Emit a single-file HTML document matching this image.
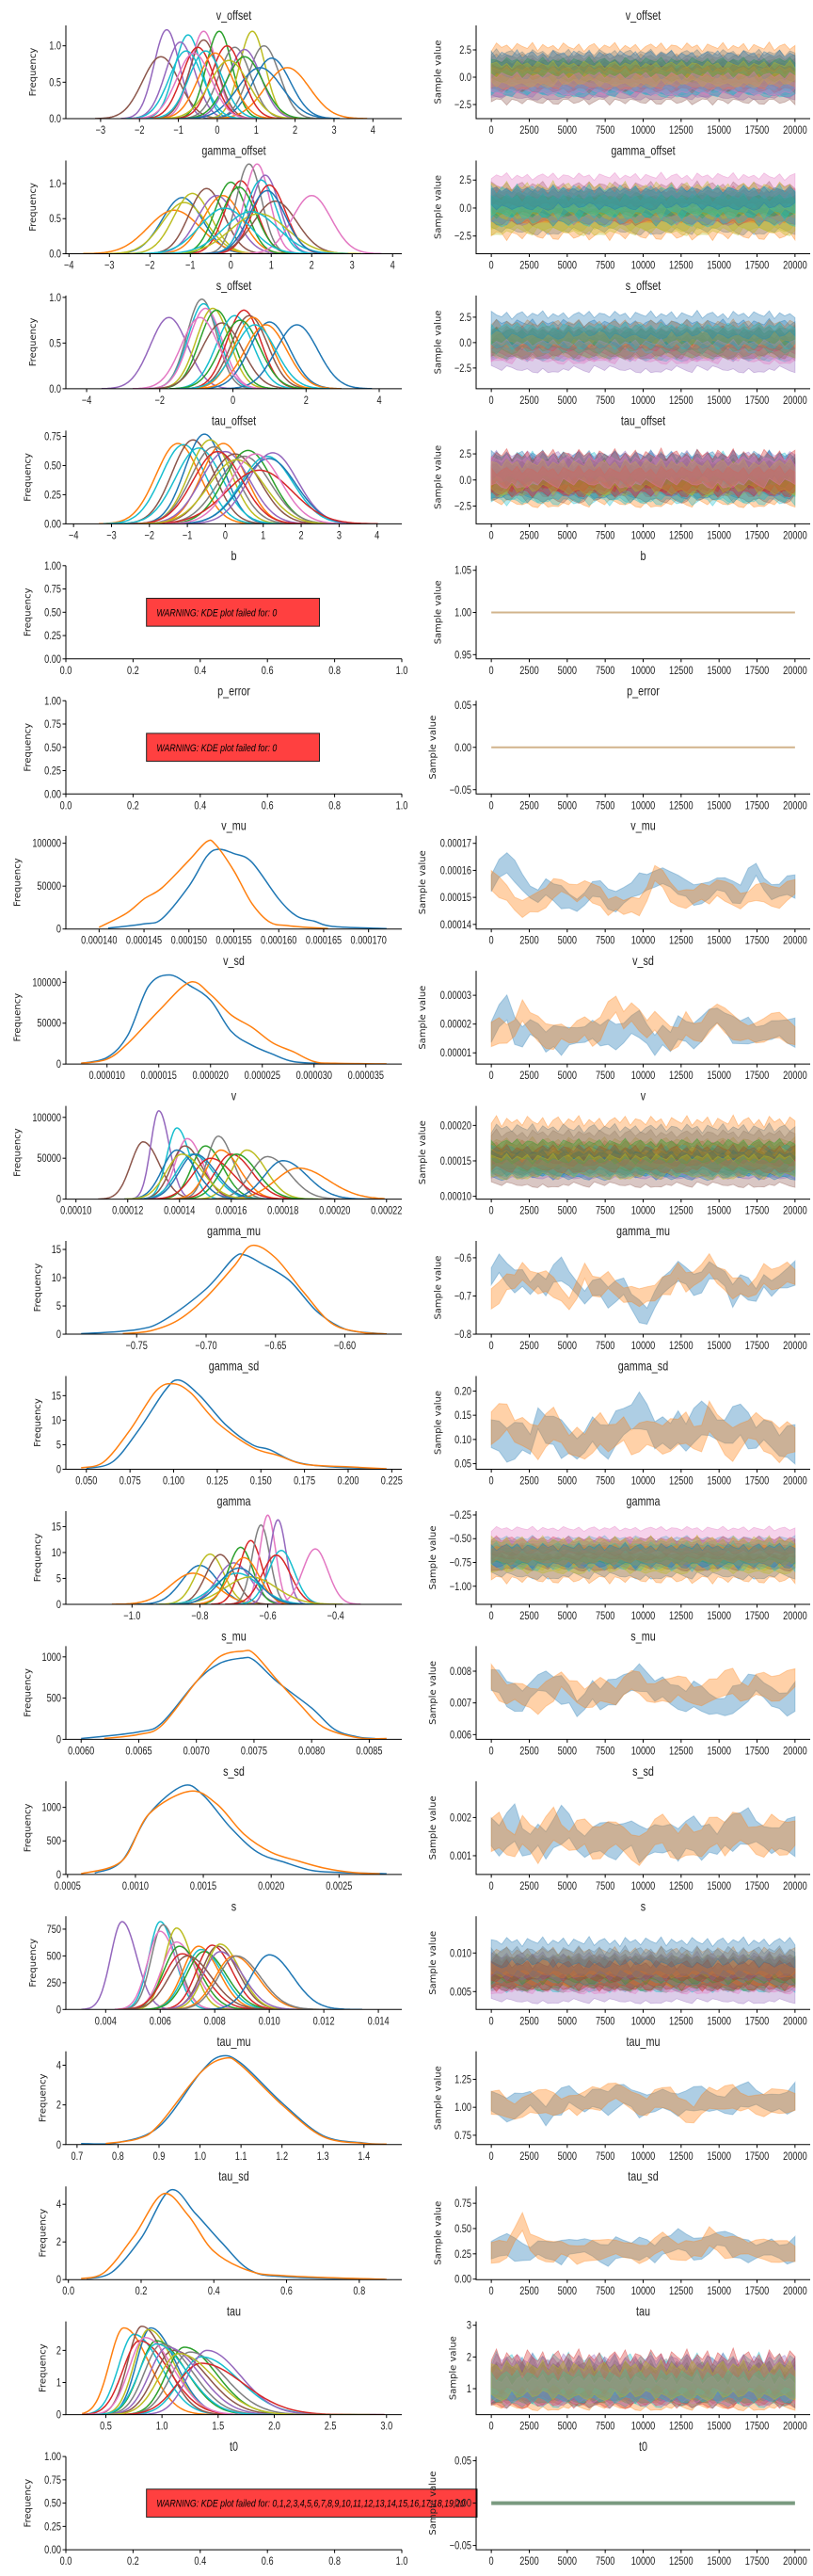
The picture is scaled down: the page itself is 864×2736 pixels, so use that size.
<!DOCTYPE html>
<html><head><meta charset="utf-8"><title>Trace plot</title>
<style>
html,body{margin:0;padding:0;background:#fff;}
svg{display:block;}
.tk{font-family:"Liberation Sans Narrow","Liberation Sans",sans-serif;font-size:11.5px;fill:#222;}
.ttl{font-family:"Liberation Sans Narrow","Liberation Sans",sans-serif;font-size:13.5px;fill:#222;}
.yl{font-family:"DejaVu Sans","Liberation Sans",sans-serif;font-size:10px;fill:#222;}
.warn{font-family:"Liberation Sans Narrow","Liberation Sans",sans-serif;font-style:italic;font-size:11px;fill:#000;}
</style></head>
<body>
<svg id="chart" width="864" height="2736" viewBox="0 0 864 2736" xmlns="http://www.w3.org/2000/svg"></svg>
<script>
// ===== DATA =====
const COLORS=['#1f77b4','#ff7f0e','#2ca02c','#d62728','#9467bd','#8c564b','#e377c2','#7f7f7f','#bcbd22','#17becf'];
const titles=['v_offset','gamma_offset','s_offset','tau_offset','b','p_error','v_mu','v_sd','v','gamma_mu','gamma_sd','gamma','s_mu','s_sd','s','tau_mu','tau_sd','tau','t0'];
const traceSteps=[0,2500,5000,7500,10000,12500,15000,17500,20000];
const wiggle=[0.2,-0.5,0.8,-0.1,0.4,-0.9,0.6,0.1,-0.3,0.9,-0.6,0.3,-0.2,0.7,-0.8,0.5,0.0,-0.4,1.0,-0.7,0.2,0.6,-0.5,0.3,-0.9,0.8,-0.1,0.4,-0.6,0.7,0.1,-0.3,0.9,-0.8,0.5,-0.2,0.3,-0.6,0.8,0.0,-0.4,0.6,-0.9,0.2,0.7,-0.5,0.4,-0.1,0.9,-0.7,0.3,-0.3,0.5,-0.8,0.1,0.6,-0.2,0.8,-0.6,0.4];

const vOffsetMeans=[-1.3,-1.45,-0.75,-0.95,-0.35,-0.35,0.05,0.9,1.2,0.45,0.7,1.4,1.8,-0.5,0.25,-0.8,-0.3,0.7,-0.05,1.1,0.3,-0.6];
const vOffsetPeaks=[1.22,0.85,1.15,1.05,1.2,1.08,1.2,1.2,1.0,0.98,0.95,0.83,0.7,0.98,1.0,0.93,0.93,0.85,0.9,0.7,0.8,0.9];
const vOffsetColors=[4,5,9,4,6,5,2,8,7,7,4,0,1,3,3,9,9,2,1,0,8,6];
const gammaOffsetMeans=[-1.2,-1.4,-0.95,-1.15,-0.6,-0.35,-0.2,0,0.25,0.45,0.65,0.85,0.75,0.95,1.1,2.0,0.2,-0.15,0.7,0.5,0.9];
const gammaOffsetPeaks=[0.8,0.62,0.86,0.73,0.93,0.83,0.83,1.02,1.04,1.28,1.28,1.12,1.05,0.98,0.75,0.83,0.95,0.65,0.57,0.6,0.9];
const gammaOffsetColors=[0,1,8,8,5,4,1,2,3,7,6,4,9,3,5,6,2,9,8,9,0];
const sOffsetMeans=[-1.75,-0.85,-0.8,-0.75,-0.55,-0.45,-0.3,0.05,0.3,0.45,0.55,0.2,1.0,0.9,1.75,-0.9,0.6];
const sOffsetPeaks=[0.78,0.98,0.93,0.88,0.88,0.86,0.72,0.8,0.86,0.8,0.78,0.75,0.73,0.7,0.7,0.78,0.7];
const sOffsetColors=[4,7,9,6,8,2,5,9,3,5,1,2,0,1,0,6,9];
const tauOffsetMeans=[-1.25,-1.1,-0.85,-0.55,-0.4,-0.05,-0.7,-0.3,0,0.25,0.6,0.5,1.1,1.25,1.15,0.9,-0.2,0.3,0.8];
const tauOffsetPeaks=[0.69,0.68,0.72,0.77,0.72,0.69,0.65,0.66,0.62,0.6,0.63,0.58,0.58,0.61,0.56,0.46,0.62,0.55,0.6];
const tauOffsetColors=[1,9,5,0,8,1,9,7,4,5,2,7,9,4,0,3,3,8,6];
const vMeans=[1.26e-4,1.32e-4,1.39e-4,1.43e-4,1.42e-4,1.45e-4,1.50e-4,1.55e-4,1.56e-4,1.60e-4,1.66e-4,1.74e-4,1.80e-4,1.86e-4,1.46e-4,1.52e-4,1.62e-4,1.39e-4,1.41e-4];
const vPeaks=[70000,108000,87000,74000,65000,55000,65000,77000,60000,55000,60000,52000,47000,38000,55000,50000,55000,60000,55000];
const vColors=[5,4,9,6,5,9,2,7,1,3,8,7,0,1,0,3,2,0,8];
const gammaMeans=[-0.8,-0.82,-0.77,-0.74,-0.7,-0.68,-0.65,-0.62,-0.6,-0.57,-0.56,-0.575,-0.46,-0.69,-0.65,-0.67,-0.685];
const gammaPeaks=[7.5,6,9.7,9.6,8,11,12.3,15.3,17.2,16.3,10.4,9.5,10.7,6,5.3,9,7];
const gammaColors=[0,1,8,5,4,2,3,7,6,4,9,3,6,9,8,1,0];
const sMeans=[0.0046,0.0060,0.0061,0.0060,0.0066,0.0066,0.0067,0.0068,0.0074,0.0075,0.0076,0.0079,0.0081,0.0082,0.0082,0.0087,0.0088,0.0100,0.0070];
const sPeaks=[820,820,790,730,760,630,590,520,590,560,540,600,590,610,540,500,500,510,500];
const sColors=[4,9,7,6,8,6,2,3,1,9,2,3,5,8,4,1,7,0,5];
const tauMeans=[0.66,0.75,0.82,0.9,0.88,0.8,0.95,1.0,1.1,1.2,1.25,1.35,1.4,1.35,0.85,1.05,0.95,1.15];
const tauPeaks=[2.7,2.5,2.75,2.7,2.65,2.3,2.3,2.2,2.0,2.1,1.95,1.8,2.0,1.6,2.4,2.1,2.2,1.9];
const tauColors=[1,9,5,0,8,3,2,7,5,2,7,9,4,3,6,4,9,8];

const vMuBlue=[[1.41e-4,1000],[1.45e-4,6000],[1.47e-4,12000],[1.50e-4,50000],[1.52e-4,85000],[1.533e-4,93000],[1.55e-4,88000],[1.57e-4,78000],[1.60e-4,35000],[1.62e-4,15000],[1.64e-4,9000],[1.66e-4,3000],[1.72e-4,500]];
const vMuOrange=[[1.40e-4,2000],[1.43e-4,18000],[1.45e-4,35000],[1.47e-4,48000],[1.50e-4,80000],[1.52e-4,102000],[1.53e-4,98000],[1.55e-4,68000],[1.57e-4,30000],[1.59e-4,8000],[1.61e-4,4000],[1.63e-4,2000],[1.655e-4,500]];
const vSdBlue=[[7.5e-6,1000],[1e-5,8000],[1.2e-5,35000],[1.4e-5,95000],[1.6e-5,109000],[1.8e-5,96000],[2.0e-5,78000],[2.2e-5,40000],[2.4e-5,23000],[2.6e-5,12000],[2.8e-5,3000],[3.1e-5,500]];
const vSdOrange=[[7.5e-6,1000],[1e-5,6000],[1.2e-5,25000],[1.5e-5,65000],[1.8e-5,100000],[2.0e-5,85000],[2.2e-5,60000],[2.4e-5,45000],[2.6e-5,26000],[2.8e-5,15000],[3.0e-5,3000],[3.2e-5,1000],[3.7e-5,300]];
const gammaMuBlue=[[-0.79,0.1],[-0.75,0.8],[-0.73,2.5],[-0.70,8],[-0.68,13.5],[-0.672,14],[-0.66,12.5],[-0.64,9.5],[-0.62,4],[-0.60,0.9],[-0.58,0.2],[-0.57,0.05]];
const gammaMuOrange=[[-0.76,0.1],[-0.74,0.6],[-0.72,2.5],[-0.70,6.5],[-0.68,12],[-0.667,15.7],[-0.65,13.5],[-0.63,7.5],[-0.61,2],[-0.59,0.4],[-0.57,0.05]];
const gammaSdBlue=[[0.05,0.2],[0.065,1.5],[0.08,8],[0.095,16],[0.103,18.2],[0.115,15],[0.13,9],[0.145,5],[0.155,4],[0.17,1.5],[0.19,0.5],[0.22,0.1]];
const gammaSdOrange=[[0.047,0.3],[0.06,1.5],[0.075,8],[0.09,16],[0.1,17.4],[0.11,15.5],[0.125,9.5],[0.145,4.5],[0.16,2.8],[0.175,1],[0.2,0.5],[0.222,0.1]];
const sMuBlue=[[0.0060,10],[0.0065,90],[0.0067,200],[0.0070,700],[0.0072,920],[0.0074,985],[0.0075,960],[0.0077,700],[0.0080,380],[0.0082,120],[0.0084,30],[0.00855,10]];
const sMuOrange=[[0.0062,10],[0.0065,60],[0.0067,170],[0.0070,700],[0.0072,1000],[0.0074,1070],[0.0075,1040],[0.0077,720],[0.0079,420],[0.0081,150],[0.0084,20],[0.00865,10]];
const sSdBlue=[[0.0007,20],[0.0009,200],[0.0011,900],[0.00135,1320],[0.0015,1180],[0.0017,700],[0.0019,330],[0.0021,180],[0.0023,60],[0.0025,30],[0.00285,10]];
const sSdOrange=[[0.0006,10],[0.0009,200],[0.0011,900],[0.0014,1240],[0.0016,1050],[0.0018,600],[0.0020,330],[0.0022,200],[0.0024,90],[0.0026,30],[0.0028,10]];
const tauMuBlue=[[0.71,0.05],[0.8,0.1],[0.9,0.9],[1.0,3.6],[1.05,4.45],[1.1,4.1],[1.2,2.1],[1.3,0.45],[1.4,0.08],[1.45,0.02]];
const tauMuOrange=[[0.77,0.05],[0.85,0.3],[0.9,1.0],[1.0,3.6],[1.06,4.35],[1.1,4.0],[1.2,2.0],[1.3,0.4],[1.4,0.06],[1.455,0.02]];
const tauSdBlue=[[0.05,0.05],[0.12,0.4],[0.2,2.2],[0.28,4.75],[0.35,3.5],[0.42,2.0],[0.5,0.5],[0.6,0.15],[0.87,0.01]];
const tauSdOrange=[[0.035,0.05],[0.1,0.4],[0.18,2.3],[0.26,4.55],[0.33,3.4],[0.4,1.5],[0.5,0.45],[0.6,0.2],[0.875,0.01]];

const vMuTraceBlue=[155,160,163,160,156,152,150,155,152,150,148,147,150,153,154,150,148,150,152,155,156,158,157,156,154,153,151,152,153,155,154,152,151,157,160,155,152,153,155,154].map(v=>v*1e-6);
const vMuTraceOrange=[156,154,152,148,145,147,148,150,153,154,153,152,154,152,150,146,148,146,148,147,152,158,156,152,150,150,151,152,150,153,152,151,149,150,151,152,150,150,152,154].map(v=>v*1e-6);
const vSdTraceBlue=[17,22,26,18,16,19,17,15,16,14,15,16,17,18,17,18,15,16,19,20,17,14,15,13,18,17,16,19,22,23,20,18,17,18,16,17,18,19,18,17].map(v=>v*1e-6);
const vSdTraceOrange=[16,18,17,19,24,20,18,16,15,17,16,18,20,17,18,24,27,21,25,22,19,20,17,15,16,21,18,17,20,23,21,19,18,17,16,18,19,20,17,16].map(v=>v*1e-6);
const gammaMuTraceBlue=[-0.65,-0.62,-0.64,-0.66,-0.65,-0.68,-0.66,-0.67,-0.64,-0.63,-0.66,-0.68,-0.70,-0.68,-0.67,-0.70,-0.69,-0.68,-0.72,-0.74,-0.75,-0.70,-0.68,-0.66,-0.64,-0.65,-0.67,-0.66,-0.63,-0.64,-0.66,-0.70,-0.67,-0.68,-0.70,-0.66,-0.68,-0.66,-0.65,-0.64];
const gammaMuTraceOrange=[-0.71,-0.69,-0.66,-0.66,-0.64,-0.66,-0.67,-0.66,-0.68,-0.70,-0.72,-0.68,-0.63,-0.67,-0.68,-0.66,-0.68,-0.70,-0.69,-0.70,-0.69,-0.70,-0.68,-0.67,-0.63,-0.66,-0.65,-0.64,-0.62,-0.65,-0.66,-0.68,-0.67,-0.69,-0.68,-0.64,-0.66,-0.65,-0.64,-0.65];
const gammaSdTraceBlue=[0.11,0.10,0.09,0.10,0.11,0.09,0.14,0.13,0.12,0.10,0.09,0.08,0.10,0.12,0.11,0.10,0.12,0.13,0.14,0.16,0.15,0.12,0.11,0.10,0.12,0.10,0.13,0.15,0.14,0.12,0.11,0.13,0.14,0.12,0.10,0.12,0.11,0.09,0.10,0.09];
const gammaSdTraceOrange=[0.12,0.14,0.15,0.12,0.11,0.10,0.09,0.12,0.13,0.11,0.09,0.10,0.09,0.11,0.12,0.10,0.11,0.12,0.10,0.11,0.12,0.10,0.09,0.11,0.12,0.13,0.11,0.10,0.14,0.12,0.10,0.09,0.11,0.12,0.12,0.11,0.10,0.09,0.10,0.10];
const sMuTraceBlue=[77,76,73,72,71,74,76,78,75,74,72,68,71,74,72,74,73,75,76,78,77,75,74,72,71,70,73,72,70,69,68,71,72,75,76,74,72,71,70,72].map(v=>v*1e-4);
const sMuTraceOrange=[78,75,73,74,72,71,70,73,74,77,75,74,72,73,74,73,72,75,78,77,74,72,73,74,76,75,73,72,73,74,76,77,74,73,75,76,74,75,76,78].map(v=>v*1e-4);
const sSdTraceBlue=[16,13,17,19,14,13,15,14,16,18,17,14,13,14,16,15,13,14,15,13,14,16,13,14,12,15,16,14,15,13,15,16,17,18,16,15,14,15,16,15].map(v=>v*1e-4);
const sSdTraceOrange=[15,17,14,13,16,14,12,16,18,15,14,16,17,14,13,15,16,14,13,12,14,15,16,14,13,15,14,13,15,16,14,17,18,15,13,14,16,15,14,16].map(v=>v*1e-4);
const tauMuTraceBlue=[1.05,1.0,0.98,1.02,1.05,1.08,1.0,0.95,1.02,1.05,1.1,1.06,1.04,1.08,1.1,1.05,1.08,1.1,1.06,1.02,1.04,1.08,1.05,1.03,1.0,1.05,1.08,1.1,1.06,1.04,1.0,1.05,1.1,1.12,1.08,1.05,1.04,1.06,1.05,1.1];
const tauMuTraceOrange=[1.03,1.05,1.0,0.97,0.98,1.02,1.04,1.06,1.02,1.0,1.05,1.03,1.08,1.1,1.06,1.12,1.15,1.1,1.08,1.04,1.02,1.05,1.06,1.08,1.02,0.98,0.95,1.02,1.06,1.05,1.08,1.1,1.06,1.04,1.0,1.02,1.05,1.06,1.04,1.05];
const tauSdTraceBlue=[0.28,0.3,0.35,0.3,0.28,0.25,0.3,0.32,0.28,0.26,0.3,0.32,0.35,0.3,0.28,0.25,0.3,0.28,0.26,0.3,0.32,0.28,0.3,0.33,0.38,0.35,0.3,0.32,0.35,0.4,0.38,0.33,0.3,0.28,0.26,0.3,0.32,0.28,0.26,0.3];
const tauSdTraceOrange=[0.25,0.28,0.3,0.45,0.55,0.35,0.3,0.28,0.26,0.3,0.28,0.25,0.27,0.3,0.28,0.3,0.32,0.28,0.3,0.26,0.28,0.3,0.35,0.3,0.28,0.3,0.32,0.3,0.4,0.35,0.3,0.32,0.34,0.3,0.28,0.3,0.26,0.28,0.27,0.25];
const constTraceValues=[1.0,0.0,0.0];

const xTickLabels={
 0:['−3','−2','−1','0','1','2','3','4'],1:['−4','−3','−2','−1','0','1','2','3','4'],2:['−4','−2','0','2','4'],3:['−4','−3','−2','−1','0','1','2','3','4'],
 4:['0.0','0.2','0.4','0.6','0.8','1.0'],5:['0.0','0.2','0.4','0.6','0.8','1.0'],
 6:['0.000140','0.000145','0.000150','0.000155','0.000160','0.000165','0.000170'],
 7:['0.000010','0.000015','0.000020','0.000025','0.000030','0.000035'],
 8:['0.00010','0.00012','0.00014','0.00016','0.00018','0.00020','0.00022'],
 9:['−0.75','−0.70','−0.65','−0.60'],10:['0.050','0.075','0.100','0.125','0.150','0.175','0.200','0.225'],
 11:['−1.0','−0.8','−0.6','−0.4'],12:['0.0060','0.0065','0.0070','0.0075','0.0080','0.0085'],
 13:['0.0005','0.0010','0.0015','0.0020','0.0025'],14:['0.004','0.006','0.008','0.010','0.012','0.014'],
 15:['0.7','0.8','0.9','1.0','1.1','1.2','1.3','1.4'],16:['0.0','0.2','0.4','0.6','0.8'],
 17:['0.5','1.0','1.5','2.0','2.5','3.0'],18:['0.0','0.2','0.4','0.6','0.8','1.0']};
const leftYTickLabels={
 0:['0.0','0.5','1.0'],1:['0.0','0.5','1.0'],2:['0.0','0.5','1.0'],3:['0.00','0.25','0.50','0.75'],
 4:['0.00','0.25','0.50','0.75','1.00'],5:['0.00','0.25','0.50','0.75','1.00'],
 6:['0','50000','100000'],7:['0','50000','100000'],8:['0','50000','100000'],9:['0','5','10','15'],10:['0','5','10','15'],11:['0','5','10','15'],
 12:['0','500','1000'],13:['0','500','1000'],14:['0','250','500','750'],15:['0','2','4'],16:['0','2','4'],17:['0','1','2'],18:['0.00','0.25','0.50','0.75','1.00']};
const rightYTickLabels={
 0:['−2.5','0.0','2.5'],1:['−2.5','0.0','2.5'],2:['−2.5','0.0','2.5'],3:['−2.5','0.0','2.5'],4:['0.95','1.00','1.05'],5:['−0.05','0.00','0.05'],
 6:['0.00014','0.00015','0.00016','0.00017'],7:['0.00001','0.00002','0.00003'],8:['0.00010','0.00015','0.00020'],9:['−0.8','−0.7','−0.6'],
 10:['0.05','0.10','0.15','0.20'],11:['−1.00','−0.75','−0.50','−0.25'],12:['0.006','0.007','0.008'],13:['0.001','0.002'],14:['0.005','0.010'],
 15:['0.75','1.00','1.25'],16:['0.00','0.25','0.50','0.75'],17:['1','2','3'],18:['−0.05','0.00','0.05']};

// ===== LAYOUT / CONFIG =====
const num=s=>parseFloat(s.replace('−','-'));
const L={x0:70,x1:427}, R={x0:506,x1:861};
const rowTop=i=>27+143.45*i, AX_H=99;
const SX=0.8; // horizontal condense of text
const leftCfg=[
 {range:[-3.5,4.35],ylim:[0,1.28],multi:[vOffsetMeans,vOffsetPeaks,vOffsetColors],skew:1},
 {range:[-3.7,3.85],ylim:[0,1.33],multi:[gammaOffsetMeans,gammaOffsetPeaks,gammaOffsetColors],skew:1},
 {range:[-4.15,4.2],ylim:[0,1.02],multi:[sOffsetMeans,sOffsetPeaks,sOffsetColors],skew:1},
 {range:[-3.8,4.25],ylim:[0,0.80],multi:[tauOffsetMeans,tauOffsetPeaks,tauOffsetColors],skew:1},
 {xlim:[0,1],ylim:[0,1],warn:'WARNING: KDE plot failed for: 0'},
 {xlim:[0,1],ylim:[0,1],warn:'WARNING: KDE plot failed for: 0'},
 {range:[1.38e-4,1.72e-4],ylim:[0,108700],two:[vMuBlue,vMuOrange]},
 {range:[7.5e-6,3.7e-5],ylim:[0,114000],two:[vSdBlue,vSdOrange]},
 {range:[1.02e-4,2.2e-4],ylim:[0,114000],multi:[vMeans,vPeaks,vColors],skew:1.1},
 {range:[-0.79,-0.57],ylim:[0,16.5],two:[gammaMuBlue,gammaMuOrange]},
 {range:[0.047,0.222],ylim:[0,19],two:[gammaSdBlue,gammaSdOrange]},
 {range:[-1.15,-0.25],ylim:[0,18],multi:[gammaMeans,gammaPeaks,gammaColors],skew:1},
 {range:[0.0060,0.00865],ylim:[0,1130],two:[sMuBlue,sMuOrange]},
 {range:[0.0006,0.00285],ylim:[0,1390],two:[sSdBlue,sSdOrange]},
 {range:[0.0031,0.0143],ylim:[0,870],multi:[sMeans,sPeaks,sColors],skew:1.1},
 {range:[0.71,1.455],ylim:[0,4.7],two:[tauMuBlue,tauMuOrange]},
 {range:[0.035,0.875],ylim:[0,4.95],two:[tauSdBlue,tauSdOrange]},
 {range:[0.28,3.0],ylim:[0,2.9],multi:[tauMeans,tauPeaks,tauColors],skew:1.5},
 {xlim:[0,1],ylim:[0,1],warn:'WARNING: KDE plot failed for: 0,1,2,3,4,5,6,7,8,9,10,11,12,13,14,15,16,17,18,19,20'}];
const rightCfg=[
 {ylim:[-3.79,4.74],bands:0},{ylim:[-4.08,4.25],bands:1},{ylim:[-4.54,4.63],bands:2},{ylim:[-4.2,4.73],bands:3},
 {ylim:[0.945,1.0555],flat:0,col:'#d2b48c',w:2},{ylim:[-0.055,0.055],flat:1,col:'#d2b48c',w:2},
 {ylim:[1.383e-4,1.728e-4],two:[vMuTraceBlue,vMuTraceOrange],spread:3e-6},
 {ylim:[0.61e-5,3.85e-5],two:[vSdTraceBlue,vSdTraceOrange],spread:3.5e-6},
 {ylim:[0.96e-4,2.276e-4],bands:8},
 {ylim:[-0.8,-0.556],two:[gammaMuTraceBlue,gammaMuTraceOrange],spread:0.022},
 {ylim:[0.0385,0.231],two:[gammaSdTraceBlue,gammaSdTraceOrange],spread:0.028},
 {ylim:[-1.19,-0.21],bands:11},
 {ylim:[0.00585,0.00879],two:[sMuTraceBlue,sMuTraceOrange],spread:0.00032},
 {ylim:[0.00051,0.00295],two:[sSdTraceBlue,sSdTraceOrange],spread:0.00036},
 {ylim:[0.00268,0.01476],bands:14},
 {ylim:[0.667,1.5],two:[tauMuTraceBlue,tauMuTraceOrange],spread:0.085},
 {ylim:[-0.005,0.917],two:[tauSdTraceBlue,tauSdTraceOrange],spread:0.085},
 {ylim:[0.18,3.12],bands:17},
 {ylim:[-0.055,0.055],flat:2,col:'#7a9a80',w:4}];

// ===== DRAWING =====
const svg=document.getElementById('chart');
const NS='http://www.w3.org/2000/svg';
function mk(tag,attrs,parent){const e=document.createElementNS(NS,tag);for(const k in attrs)e.setAttribute(k,attrs[k]);(parent||svg).appendChild(e);return e;}
function ctext(parent,x,y,anchor,cls,str){const t=mk('text',{x:0,y:0,'text-anchor':anchor,class:cls,transform:`translate(${x.toFixed(1)},${y.toFixed(1)}) scale(${SX},1)`},parent);t.textContent=str;return t;}
function lin(d0,d1,r0,r1){return v=>r0+(v-d0)/(d1-d0)*(r1-r0);}
function smoothPath(pts){let d='M'+pts[0][0].toFixed(1)+','+pts[0][1].toFixed(1);
 for(let i=0;i<pts.length-1;i++){const p0=pts[Math.max(0,i-1)],p1=pts[i],p2=pts[i+1],p3=pts[Math.min(pts.length-1,i+2)];
  const c1=[p1[0]+(p2[0]-p0[0])/6,p1[1]+(p2[1]-p0[1])/6],c2=[p2[0]-(p3[0]-p1[0])/6,p2[1]-(p3[1]-p1[1])/6];
  d+='C'+c1[0].toFixed(1)+','+c1[1].toFixed(1)+' '+c2[0].toFixed(1)+','+c2[1].toFixed(1)+' '+p2[0].toFixed(1)+','+p2[1].toFixed(1);}
 return d;}
const multiIndex={0:leftCfg[0],1:leftCfg[1],2:leftCfg[2],3:leftCfg[3],8:leftCfg[8],11:leftCfg[11],14:leftCfg[14],17:leftCfg[17]};

function drawAxes(g,i,side,x0,x1,top,bot,xs,ys,xt,yt,ylabel){
 const ax=mk('g',{},g);
 
 
 const t=ctext(ax,(x0+x1)/2,top-6,'middle','ttl',titles[i]);
 
 
 const sp=mk('path',{d:`M${x0},${top}V${bot}H${x1}`,fill:'none',stroke:'#000','stroke-width':1},ax);
 
 
 xt.forEach(([v,lab])=>{const x=xs(v);mk('line',{x1:x,x2:x,y1:bot,y2:bot+3.5,stroke:'#000','stroke-width':1},ax);
  const tx=ctext(ax,x,bot+16,'middle','tk',lab);
  
  });
 let maxw=0;
 yt.forEach(([v,lab])=>{const y=ys(v);mk('line',{x1:x0-3.5,x2:x0,y1:y,y2:y,stroke:'#000','stroke-width':1},ax);
  const tx=ctext(ax,x0-5,y+4,'end','tk',lab);maxw=Math.max(maxw,lab.length);
  
  });
 const lx=x0-8-maxw*5.4-8, ly=(top+bot)/2;
 const yl=mk('text',{x:lx,y:ly,'text-anchor':'middle',class:'yl',transform:`rotate(-90 ${lx} ${ly})`},ax);yl.textContent=ylabel;
 
 
}

for(let i=0;i<19;i++){
 const top=rowTop(i), bot=top+AX_H;
 const row=mk('g',{});
 
 
 const cpL=mk('clipPath',{id:'cl'+i},row);mk('rect',{x:L.x0,y:top-2,width:L.x1-L.x0,height:AX_H+2},cpL);
 const cpR=mk('clipPath',{id:'cr'+i},row);mk('rect',{x:R.x0,y:top-2,width:R.x1-R.x0,height:AX_H+2},cpR);

 const lc=leftCfg[i];
 const xlim=lc.xlim||[lc.range[0]-0.05*(lc.range[1]-lc.range[0]),lc.range[1]+0.05*(lc.range[1]-lc.range[0])];
 const xs=lin(xlim[0],xlim[1],L.x0,L.x1), ys=lin(lc.ylim[0],lc.ylim[1],bot,top);
 const lg=mk('g',{'clip-path':`url(#cl${i})`},row);
 
 
 if(lc.multi){
  const [means,peaks,cols]=lc.multi;
  means.forEach((m,k)=>{const sd=1/(peaks[k]*Math.sqrt(2*Math.PI));const pts=[];
   for(let j=0;j<=70;j++){const z=-3.6+j*(7.2+3.6*(lc.skew-1))/70;
    const x=m+z*(z<0?sd*(lc.skew>1?0.85:1):sd*lc.skew);
    if(x<lc.range[0]||x>lc.range[1])continue;
    pts.push([xs(x),ys(peaks[k]*Math.exp(-0.5*z*z))]);}
   if(pts.length<2)return;
   const p=mk('path',{d:smoothPath(pts),fill:'none',stroke:COLORS[cols[k]],'stroke-width':1.5},lg);
   
   });
 } else if(lc.two){
  lc.two.forEach((arr,k)=>{const p=mk('path',{d:smoothPath(arr.map(([x,y])=>[xs(x),ys(y)])),fill:'none',stroke:COLORS[k],'stroke-width':1.5},lg);
   
   });
 }
 if(lc.warn){
  const wg=mk('g',{},row);
  
  
  const bx=xs(0.24), bw=(i===18?R.x0+1:xs(0.755))-bx;
  mk('rect',{x:bx,y:ys(0.65),width:bw,height:ys(0.35)-ys(0.65),fill:'#ff4040',stroke:'#222','stroke-width':1},wg);
  const cw=mk('clipPath',{id:'cw'+i},wg);mk('rect',{x:bx,y:ys(0.65),width:(i===18?R.x0+12:xs(0.755))-bx,height:ys(0.35)-ys(0.65)},cw);
  const cg=mk('g',{'clip-path':`url(#cw${i})`},wg);
  const tt=ctext(cg,xs(0.27),ys(0.5)+4,'start','warn',lc.warn);
  
  
 }
 const xtL=xTickLabels[i].map(s=>[num(s),s]);
 const ytL=leftYTickLabels[i].map(s=>[num(s),s]);
 drawAxes(row,i,'left',L.x0,L.x1,top,bot,xs,ys,xtL,ytL,'Frequency');

 const rc=rightCfg[i];
 const tx=lin(-1000,21000,R.x0,R.x1), ty=lin(rc.ylim[0],rc.ylim[1],bot,top);
 const rg=mk('g',{'clip-path':`url(#cr${i})`},row);
 
 
 const N=wiggle.length;
 if(rc.bands!==undefined){
  const src=multiIndex[rc.bands];const [means,peaks,cols]=src.multi;
  means.forEach((m,k)=>{const sd=1/(peaks[k]*Math.sqrt(2*Math.PI));const up=[],dn=[];
   for(let j=0;j<N;j++){const it=j*20000/(N-1);
    up.push([tx(it),ty(m+sd*src.skew*(1.7+0.8*wiggle[(j+k*7)%N]))]);
    dn.push([tx(it),ty(m-sd*(1.7+0.8*wiggle[(j*3+k*11+5)%N]))]);}
   const d='M'+up.map(p=>p[0].toFixed(1)+','+p[1].toFixed(1)).join('L')+'L'+dn.reverse().map(p=>p[0].toFixed(1)+','+p[1].toFixed(1)).join('L')+'Z';
   const p=mk('path',{d:d,fill:COLORS[cols[k]],'fill-opacity':0.33,stroke:COLORS[cols[k]],'stroke-opacity':0.4,'stroke-width':0.8},rg);
   
   });
 } else if(rc.two){
  rc.two.forEach((arr,k)=>{const up=[],dn=[];const n=arr.length;
   for(let j=0;j<n;j++){const it=j*20000/(n-1);
    up.push([tx(it),ty(arr[j]+rc.spread*(1+0.45*wiggle[(j*2+k*13)%N]))]);
    dn.push([tx(it),ty(arr[j]-rc.spread*(1+0.45*wiggle[(j*5+k*17+3)%N]))]);}
   const d='M'+up.map(p=>p[0].toFixed(1)+','+p[1].toFixed(1)).join('L')+'L'+dn.reverse().map(p=>p[0].toFixed(1)+','+p[1].toFixed(1)).join('L')+'Z';
   const p=mk('path',{d:d,fill:COLORS[k],'fill-opacity':0.36,stroke:COLORS[k],'stroke-opacity':0.3,'stroke-width':1},rg);
   
   });
 } else if(rc.flat!==undefined){
  const v=constTraceValues[rc.flat];
  const ln=mk('line',{x1:tx(0),x2:tx(20000),y1:ty(v),y2:ty(v),stroke:rc.col,'stroke-width':rc.w},rg);
  
  
 }
 const xtR=traceSteps.map(v=>[v,String(v)]);
 const ytR=rightYTickLabels[i].map(s=>[num(s),s]);
 drawAxes(row,i,'right',R.x0,R.x1,top,bot,tx,ty,xtR,ytR,'Sample value');
}
</script>
</body></html>
